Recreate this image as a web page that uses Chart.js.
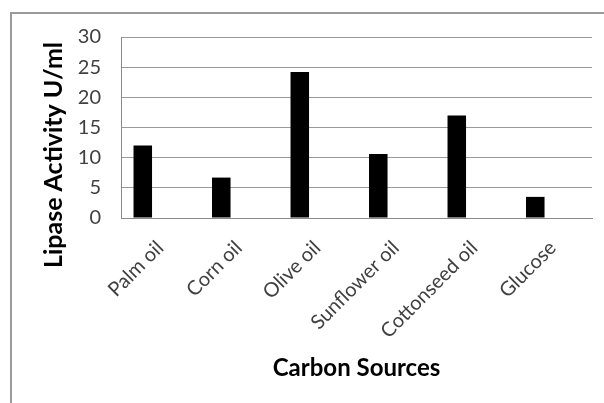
<!DOCTYPE html>
<html>
<head>
<meta charset="utf-8">
<script src="https://cdn.jsdelivr.net/npm/chart.js@4"></script>
<style>
  html, body { margin: 0; padding: 0; background: #fff; }
  #wrap { position: relative; width: 604px; height: 403px; }
</style>
</head>
<body>
<div id="wrap"><canvas id="lipaseChart" width="604" height="403"></canvas></div>
<script>
// Carbon sources and measured lipase activity (U/ml)
const sources = ['Palm oil', 'Corn oil', 'Olive oil', 'Sunflower oil', 'Cottonseed oil', 'Glucose'];
const activity = [12.0, 6.7, 24.2, 10.6, 17.0, 3.5];
// empty companion series, the original Excel chart keeps a slot for it
const emptySeries = [null, null, null, null, null, null];
const yTicks = [0, 5, 10, 15, 20, 25, 30];
const yTitle = 'Lipase Activity U/ml';
const xTitle = 'Carbon Sources';

const fontFamily = 'Lato, "Open Sans", sans-serif';

// outer chart frame (top and left edge only visible in the crop)
const framePlugin = {
    id: 'frame',
    beforeDraw(chart) {
        const ctx = chart.ctx;
        ctx.save();
        ctx.fillStyle = '#fff';
        ctx.fillRect(0, 0, chart.width, chart.height);
        ctx.strokeStyle = '#9a9a9a';
        ctx.lineWidth = 2;
        ctx.beginPath();
        ctx.moveTo(11, chart.height);
        ctx.lineTo(11, 13);
        ctx.lineTo(chart.width, 13);
        ctx.stroke();
        ctx.restore();
    }
};

// Excel places the value axis title a bit below the plot centre
const yTitlePlugin = {
    id: 'yTitle',
    afterDraw(chart) {
        const ctx = chart.ctx;
        ctx.save();
        ctx.translate(54, 155);
        ctx.rotate(-Math.PI / 2);
        ctx.font = 'bold 25px ' + fontFamily;
        ctx.fillStyle = '#000';
        ctx.textAlign = 'center';
        ctx.textBaseline = 'middle';
        ctx.fillText(yTitle, 0, 0);
        ctx.restore();
    }
};

const ctx = document.getElementById('lipaseChart').getContext('2d');
new Chart(ctx, {
    type: 'bar',
    data: {
        labels: sources,
        datasets: [{
            label: 'Lipase Activity',
            data: activity,
            backgroundColor: '#000',
            borderWidth: 0,
            categoryPercentage: 0.89,
            barPercentage: 0.53
        }, {
            label: '',
            data: emptySeries,
            backgroundColor: '#000',
            categoryPercentage: 0.89,
            barPercentage: 0.53
        }]
    },
    options: {
        responsive: false,
        animation: false,
        layout: {
            padding: { left: 24, right: 12, top: 37, bottom: 8 }
        },
        scales: {
            y: {
                min: 0,
                max: 30,
                afterFit(scale) { scale.width = 97; },
                afterBuildTicks(scale) { scale.ticks = yTicks.map(v => ({ value: v })); },
                grid: {
                    color: '#9a9a9a',
                    lineWidth: 1,
                    drawTicks: false
                },
                border: { display: true, color: '#8a8a8a', width: 1 },
                ticks: {
                    padding: 20,
                    color: '#404040',
                    font: { family: fontFamily, size: 20 }
                },
                title: { display: false }
            },
            x: {
                afterFit(scale) { scale.height = 177; },
                grid: { display: false, drawTicks: false },
                border: { display: true, color: '#8a8a8a', width: 1 },
                ticks: {
                    minRotation: 45,
                    maxRotation: 45,
                    padding: 18,
                    color: '#404040',
                    font: { family: fontFamily, size: 20 }
                },
                title: {
                    display: true,
                    text: xTitle,
                    color: '#000',
                    font: { family: fontFamily, size: 24, weight: 'bold' },
                    padding: { top: 0, bottom: 12 }
                }
            }
        },
        plugins: {
            legend: { display: false },
            tooltip: { enabled: false }
        }
    },
    plugins: [framePlugin, yTitlePlugin]
});
</script>
</body>
</html>
